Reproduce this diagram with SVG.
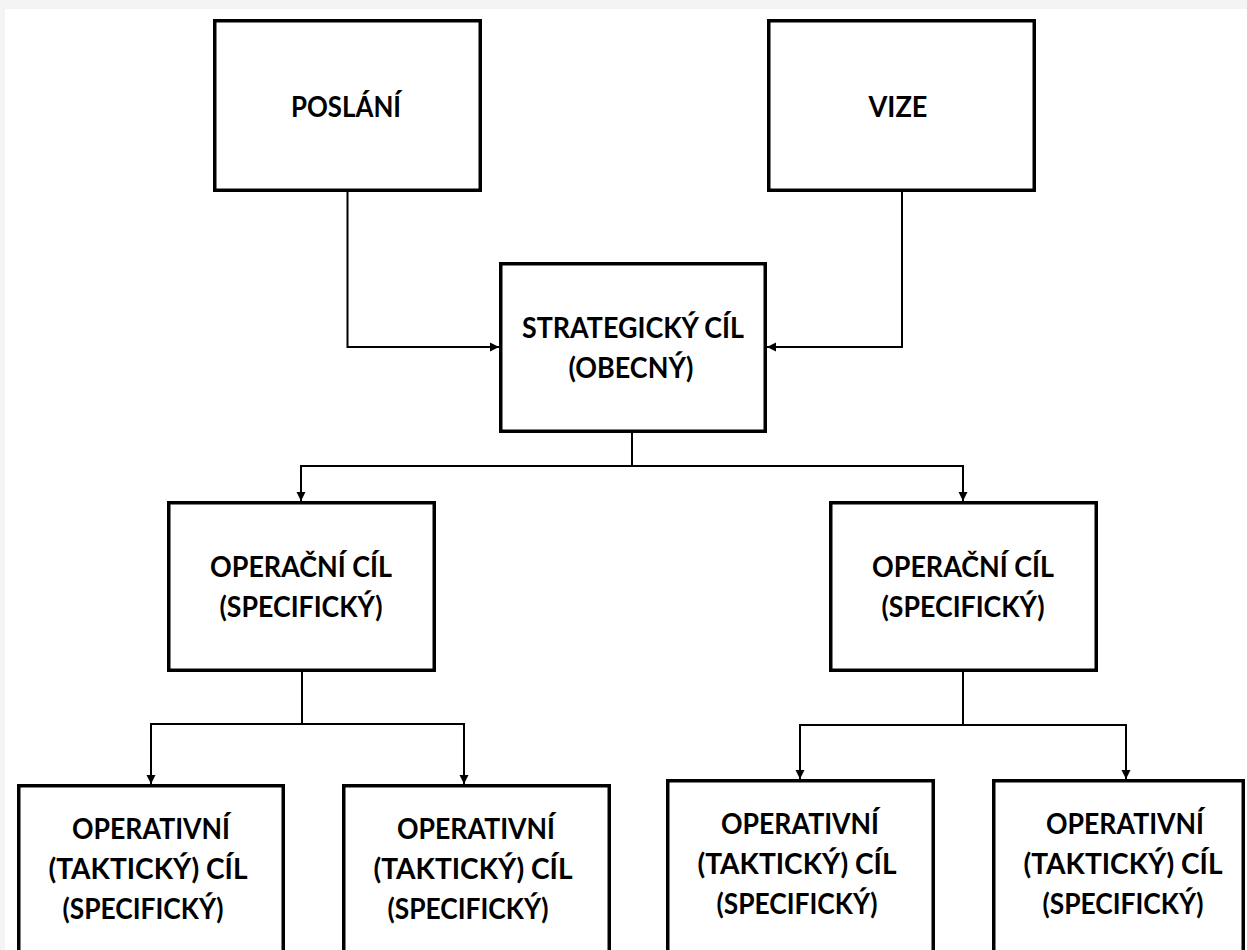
<svg xmlns="http://www.w3.org/2000/svg" width="1247" height="950" viewBox="0 0 1247 950">
  <style>
    .box { fill: #ffffff; stroke: #000000; stroke-width: 3.5; }
    .conn { fill: none; stroke: #000000; stroke-width: 2; }
    .arrow { fill: none; stroke: #000000; stroke-width: 2; marker-end: url(#tip); }
    .lbl { font-family: Lato, "Open Sans", "Liberation Sans", sans-serif; font-weight: bold; font-size: 29px; fill: #000000; text-anchor: middle; }
  </style>
  <defs>
    <marker id="tip" viewBox="0 0 10 10" refX="10" refY="5" markerWidth="9" markerHeight="10" markerUnits="userSpaceOnUse" orient="auto">
      <path d="M0,0 L10,5 L0,10 Z" fill="#000000"/>
    </marker>
  </defs>

  <!-- page background -->
  <rect x="0" y="0" width="1247" height="950" fill="#f4f4f4"/>
  <rect x="5" y="9" width="1242" height="941" fill="#ffffff"/>

  <!-- connectors -->
  <g id="connectors">
    <path class="arrow" d="M347.5,192 V347 H499"/>
    <path class="arrow" d="M902,192 V347 H767"/>
    <path class="conn" d="M632,433 V466"/>
    <path class="arrow" d="M632,466 H301 V501"/>
    <path class="arrow" d="M632,466 H963 V501"/>
    <path class="conn" d="M302,672 V724"/>
    <path class="arrow" d="M302,724 H151 V784"/>
    <path class="arrow" d="M302,724 H464 V784"/>
    <path class="conn" d="M963,672 V725"/>
    <path class="arrow" d="M963,725 H800 V779"/>
    <path class="arrow" d="M963,725 H1126 V779"/>
  </g>

  <g id="poslani">
    <rect class="box" x="214.75" y="20.75" width="265.5" height="169.5"/>
    <text class="lbl" x="346" y="117" textLength="110" lengthAdjust="spacingAndGlyphs">POSLÁNÍ</text>
  </g>

  <g id="vize">
    <rect class="box" x="768.75" y="20.75" width="265.5" height="169.5"/>
    <text class="lbl" x="898" y="117" textLength="59" lengthAdjust="spacingAndGlyphs">VIZE</text>
  </g>

  <g id="strategicky-cil">
    <rect class="box" x="500.75" y="263.75" width="264.5" height="167.5"/>
    <text class="lbl" x="633" y="338" textLength="222" lengthAdjust="spacingAndGlyphs">STRATEGICKÝ CÍL</text>
    <text class="lbl" x="631" y="378" textLength="125" lengthAdjust="spacingAndGlyphs">(OBECNÝ)</text>
  </g>

  <g id="operacni-cil-1">
    <rect class="box" x="168.75" y="502.75" width="265.5" height="167.5"/>
    <text class="lbl" x="301" y="577" textLength="182" lengthAdjust="spacingAndGlyphs">OPERAČNÍ CÍL</text>
    <text class="lbl" x="301" y="617" textLength="163" lengthAdjust="spacingAndGlyphs">(SPECIFICKÝ)</text>
  </g>

  <g id="operacni-cil-2">
    <rect class="box" x="830.75" y="502.75" width="265.5" height="167.5"/>
    <text class="lbl" x="963" y="577" textLength="182" lengthAdjust="spacingAndGlyphs">OPERAČNÍ CÍL</text>
    <text class="lbl" x="963" y="617" textLength="163" lengthAdjust="spacingAndGlyphs">(SPECIFICKÝ)</text>
  </g>

  <g id="operativni-cil-1">
    <rect class="box" x="18.75" y="785.75" width="264.5" height="200"/>
    <text class="lbl" x="151" y="839" textLength="158" lengthAdjust="spacingAndGlyphs">OPERATIVNÍ</text>
    <text class="lbl" x="148" y="879" textLength="199" lengthAdjust="spacingAndGlyphs">(TAKTICKÝ) CÍL</text>
    <text class="lbl" x="143" y="919" textLength="161" lengthAdjust="spacingAndGlyphs">(SPECIFICKÝ)</text>
  </g>

  <g id="operativni-cil-2">
    <rect class="box" x="343.75" y="785.75" width="265.5" height="200"/>
    <text class="lbl" x="476" y="839" textLength="158" lengthAdjust="spacingAndGlyphs">OPERATIVNÍ</text>
    <text class="lbl" x="473" y="879" textLength="199" lengthAdjust="spacingAndGlyphs">(TAKTICKÝ) CÍL</text>
    <text class="lbl" x="468" y="919" textLength="161" lengthAdjust="spacingAndGlyphs">(SPECIFICKÝ)</text>
  </g>

  <g id="operativni-cil-3">
    <rect class="box" x="667.75" y="780.75" width="265.5" height="200"/>
    <text class="lbl" x="800" y="834" textLength="158" lengthAdjust="spacingAndGlyphs">OPERATIVNÍ</text>
    <text class="lbl" x="797" y="874" textLength="199" lengthAdjust="spacingAndGlyphs">(TAKTICKÝ) CÍL</text>
    <text class="lbl" x="797" y="914" textLength="161" lengthAdjust="spacingAndGlyphs">(SPECIFICKÝ)</text>
  </g>

  <g id="operativni-cil-4">
    <rect class="box" x="993.75" y="780.75" width="249.5" height="200"/>
    <text class="lbl" x="1125" y="834" textLength="158" lengthAdjust="spacingAndGlyphs">OPERATIVNÍ</text>
    <text class="lbl" x="1123" y="874" textLength="199" lengthAdjust="spacingAndGlyphs">(TAKTICKÝ) CÍL</text>
    <text class="lbl" x="1123" y="914" textLength="161" lengthAdjust="spacingAndGlyphs">(SPECIFICKÝ)</text>
  </g>
</svg>
